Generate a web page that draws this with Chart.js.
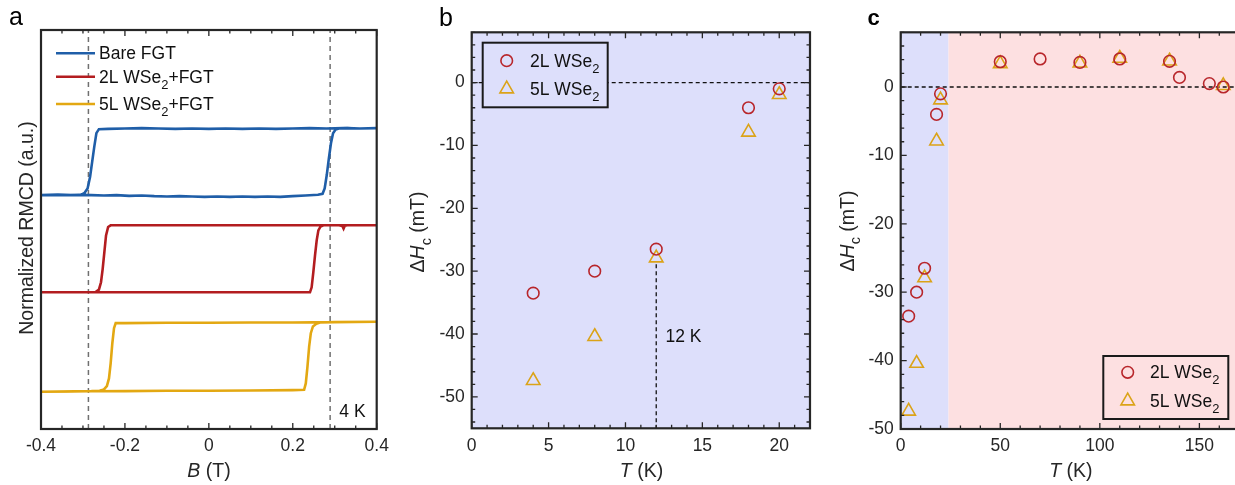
<!DOCTYPE html>
<html><head><meta charset="utf-8">
<script src="https://cdn.jsdelivr.net/npm/chart.js@4.4.1/dist/chart.umd.min.js"></script>
<style>
html,body{margin:0;padding:0;background:#fff;overflow:hidden;width:1235px;height:485px;position:relative;}
canvas.p{position:absolute;top:0;}
</style></head><body>
<canvas id="ca" class="p" style="left:0px" width="400" height="485"></canvas>
<canvas id="cb" class="p" style="left:400px" width="420" height="485"></canvas>
<canvas id="cc" class="p" style="left:820px" width="440" height="485"></canvas>
<script>
// ---------- Panel a : RMCD hysteresis loops at 4 K (normalised, loop order: sweep up then sweep down) ----------
const bareB = [-0.40,-0.36,-0.33,-0.31,-0.28,-0.25,-0.22,-0.19,-0.16,-0.13,-0.10,-0.07,-0.04,-0.01,0.02,0.05,0.08,0.11,0.14,0.17,0.20,0.23,0.26,0.271,0.276,0.281,0.286,0.291,0.296,0.302,0.31,0.33,0.36,0.40,
               0.40,0.36,0.32,0.28,0.24,0.20,0.16,0.12,0.08,0.04,0.00,-0.04,-0.08,-0.12,-0.16,-0.20,-0.24,-0.262,-0.268,-0.273,-0.278,-0.283,-0.289,-0.296,-0.305,-0.32,-0.36,-0.40];
const bareM = [-1.00,-0.99,-1.00,-0.99,-1.00,-1.01,-1.00,-1.02,-1.01,-1.03,-1.04,-1.03,-1.04,-1.05,-1.04,-1.05,-1.04,-1.05,-1.04,-1.05,-1.03,-1.01,-0.99,-0.96,-0.80,-0.40,0.10,0.55,0.85,0.96,0.99,1.00,0.99,1.00,
               1.00,0.99,1.00,0.99,1.00,0.99,0.98,0.99,0.98,0.99,0.98,0.99,0.98,0.99,1.00,0.99,0.98,0.97,0.85,0.45,0.00,-0.45,-0.80,-0.93,-0.99,-1.00,-0.99,-1.00];
const w2LB = [-0.40,-0.30,-0.20,-0.10,0.00,0.10,0.20,0.241,0.245,0.249,0.253,0.257,0.261,0.266,0.273,0.30,0.40,
              0.40,0.33,0.324,0.321,0.318,0.31,0.20,0.10,0.00,-0.10,-0.20,-0.234,-0.240,-0.245,-0.249,-0.253,-0.257,-0.262,-0.270,-0.28,-0.40];
const w2LM = [-1.00,-1.00,-1.00,-1.00,-1.00,-1.00,-1.00,-1.00,-0.85,-0.40,0.10,0.55,0.85,0.96,1.00,1.00,1.00,
              1.00,1.00,0.99,0.90,0.98,1.00,1.00,1.00,1.00,1.00,1.00,1.00,0.95,0.70,0.20,-0.30,-0.70,-0.92,-0.99,-1.00,-1.00];
const w5LB = [-0.40,-0.30,-0.28,-0.20,-0.10,0.00,0.10,0.20,0.227,0.231,0.235,0.239,0.243,0.248,0.256,0.265,0.30,0.40,
              0.40,0.30,0.20,0.10,0.00,-0.10,-0.20,-0.222,-0.226,-0.230,-0.234,-0.238,-0.243,-0.250,-0.260,-0.28,-0.40];
const w5LM = [-1.05,-1.04,-1.035,-1.03,-1.02,-1.02,-1.01,-1.00,-0.99,-0.80,-0.30,0.30,0.70,0.90,0.98,1.02,1.03,1.04,
              1.04,1.03,1.02,1.02,1.01,1.01,1.00,1.00,0.85,0.40,-0.20,-0.65,-0.88,-0.98,-1.02,-1.03,-1.05];
const loopOffsets = [5.82, 2.92, 0];
const coerciveLines = [-0.287, 0.289];
const xTicksA = [-0.4,-0.2,0,0.2,0.4];

// ---------- Panels b, c : Delta Hc vs T ----------
const T_low = [4, 8, 12, 18, 20];
const dH2L_low = [-33.5, -30, -26.5, -4, -1];
const dH5L_low = [-47.4, -40.4, -27.9, -7.9, -1.9];
const T2L_high = [50, 70, 90, 110, 135, 140, 155, 162];
const dH2L_high = [3.7, 4.1, 3.6, 4.1, 3.75, 1.4, 0.5, 0];
const T5L_high = [50, 90, 110, 135, 162];
const dH5L_high = [3.4, 3.5, 4.2, 3.8, 0.2];
const markT = 12;
const xTicksB = [0,5,10,15,20];
const yTicksB = [-50,-40,-30,-20,-10,0];
const xTicksC = [0,50,100,150];
const yTicksC = [-50,-40,-30,-20,-10,0];
const lowRegion = [0, 24];
const highRegion = [24, 172];

// ---------- styles ----------
const FONT = "'Liberation Sans', Arial, Helvetica, sans-serif";
const AX = '#262626';
const TITLE = 19.5;
const C_BLUE = '#1f5ea8', C_RED = '#b31d20', C_YEL = '#e3a812';
const M_RED = '#b8262b', M_YEL = '#dba318';
const BG_BLUE = '#dddffb', BG_PINK = '#fde0e1';

const pts = (xs, ys, off=0) => xs.map((x,i)=>({x, y: ys[i]+off}));

function rich(ctx, parts, x, y, size, align) {
  const seg = []; let w = 0;
  for (const p of parts) {
    const fs = p.sub ? size*0.74 : size;
    const f = (p.b?'bold ':'') + (p.it?'italic ':'') + fs + 'px ' + FONT;
    ctx.font = f;
    const mw = ctx.measureText(p.t).width;
    seg.push({p, f, mw}); w += mw;
  }
  let cx = align === 'center' ? x - w/2 : x;
  ctx.textAlign = 'left'; ctx.textBaseline = 'alphabetic';
  for (const s of seg) {
    ctx.font = s.f;
    ctx.fillText(s.p.t, cx, y + (s.p.sub ? size*0.34 : 0));
    cx += s.mw;
  }
}

function drawMarker(ctx, type, x, y, color) {
  ctx.save(); ctx.strokeStyle = color; ctx.lineWidth = 1.6;
  ctx.beginPath();
  if (type === 'circle') { ctx.arc(x, y, 5.8, 0, Math.PI*2); }
  else { const r = 7.8; ctx.moveTo(x, y - r); ctx.lineTo(x + r*Math.sin(Math.PI*2/3), y - r*Math.cos(Math.PI*2/3)); ctx.lineTo(x - r*Math.sin(Math.PI*2/3), y - r*Math.cos(Math.PI*2/3)); ctx.closePath(); }
  ctx.stroke(); ctx.restore();
}

const deco = {
  id: 'deco',
  beforeDatasetsDraw(chart, args, o) {
    const ctx = chart.ctx, ca = chart.chartArea, xs = chart.scales.x;
    if (o.bg) for (const r of o.bg) {
      const x0 = Math.max(ca.left, xs.getPixelForValue(r.from));
      const x1 = Math.min(ca.right, xs.getPixelForValue(r.to));
      ctx.fillStyle = r.color; ctx.fillRect(x0, ca.top, x1 - x0, ca.bottom - ca.top);
    }
  },
  afterDraw(chart, args, o) {
    const ctx = chart.ctx, ca = chart.chartArea, xs = chart.scales.x, ys = chart.scales.y;
    ctx.save();
    if (o.legend) {
      const L = o.legend;
      if (L.box) {
        ctx.fillStyle = L.fill; ctx.fillRect(L.box[0], L.box[1], L.box[2], L.box[3]);
        ctx.strokeStyle = '#1a1a1a'; ctx.lineWidth = 2; ctx.strokeRect(L.box[0], L.box[1], L.box[2], L.box[3]);
      }
      for (const e of L.items) {
        if (e.line) { ctx.strokeStyle = e.color; ctx.lineWidth = 2.6; ctx.beginPath(); ctx.moveTo(e.lx0, e.y); ctx.lineTo(e.lx1, e.y); ctx.stroke(); }
        else drawMarker(ctx, e.marker, e.mx, e.y, e.color);
        ctx.fillStyle = '#111';
        rich(ctx, e.parts, e.tx, e.y + 6, 17.5, 'left');
      }
    }
    if (o.notes) for (const n of o.notes) {
      ctx.fillStyle = '#111';
      rich(ctx, n.parts, xs.getPixelForValue(n.x), ys.getPixelForValue(n.y), 17.5, 'left');
    }
    ctx.strokeStyle = AX; ctx.lineWidth = 1.3;
    const tick = (scale, major, minor, horiz) => {
      if (!minor) return;
      const n0 = Math.ceil(scale.min/minor - 1e-9), n1 = Math.floor(scale.max/minor + 1e-9);
      for (let k = n0; k <= n1; k++) {
        const v = k*minor;
        const isMaj = Math.abs(v/major - Math.round(v/major)) < 1e-6;
        const len = isMaj ? 6 : 3.5;
        const p = scale.getPixelForValue(v);
        ctx.beginPath();
        if (horiz) { ctx.moveTo(p, ca.bottom); ctx.lineTo(p, ca.bottom - len); ctx.moveTo(p, ca.top); ctx.lineTo(p, ca.top + len); }
        else { ctx.moveTo(ca.left, p); ctx.lineTo(ca.left + len, p); ctx.moveTo(ca.right, p); ctx.lineTo(ca.right - len, p); }
        ctx.stroke();
      }
    };
    tick(xs, o.xMajor, o.xMinor, true);
    tick(ys, o.yMajor, o.yMinor, false);
    ctx.lineWidth = 2.2; ctx.strokeStyle = AX;
    ctx.strokeRect(ca.left, ca.top, ca.right - ca.left, ca.bottom - ca.top);
    ctx.fillStyle = AX;
    rich(ctx, o.xTitle.parts, o.xTitle.x, o.xTitle.y, TITLE, 'center');
    ctx.save(); ctx.translate(o.yTitle.x, o.yTitle.y); ctx.rotate(-Math.PI/2);
    rich(ctx, o.yTitle.parts, 0, 0, TITLE, 'center'); ctx.restore();
    ctx.fillStyle = '#000';
    rich(ctx, [{t:o.letter.t, b:o.letter.b}], o.letter.x, o.letter.y, o.letter.size, 'left');
    ctx.restore();
  }
};

function axes(cfg) {
  const tickFont = {family: FONT, size: 17.5};
  const setTicks = arr => (s => { s.ticks = arr.map(v => ({value: v})); });
  return {
    x: { type:'linear', min: cfg.xmin, max: cfg.xmax,
         grid:{display:false, drawTicks:false}, border:{display:false},
         afterBuildTicks: setTicks(cfg.xt),
         ticks:{ font: tickFont, color: AX, padding: 7, maxRotation:0, autoSkip:false,
                 callback: v => String(Math.round(v*100)/100) },
         afterFit: s => { s.height = cfg.xh; } },
    y: { type:'linear', min: cfg.ymin, max: cfg.ymax,
         grid:{display:false, drawTicks:false}, border:{display:false},
         afterBuildTicks: setTicks(cfg.yt),
         ticks:{ display: cfg.yt.length > 0, font: tickFont, color: AX, padding: 7, autoSkip:false,
                 callback: v => String(Math.round(v*100)/100) },
         afterFit: s => { s.width = cfg.yw; } }
  };
}

const base = { responsive:false, animation:false, events:[], plugins:{ legend:{display:false}, tooltip:{enabled:false} } };

// ---------- Chart a ----------
const loopSets = [[bareB, bareM, C_BLUE], [w2LB, w2LM, C_RED], [w5LB, w5LM, C_YEL]];
const dsA = loopSets.map((s, i) => ({ data: pts(s[0], s[1], loopOffsets[i]), showLine: true, borderColor: s[2], borderWidth: 2.6, pointRadius: 0, tension: 0, fill: false }));
const yMinA = -2.16, yMaxA = 9.75;
coerciveLines.forEach(b => dsA.push({ data: [{x:b, y:yMinA}, {x:b, y:yMaxA}], showLine:true, borderColor:'#707070', borderWidth:1.5, borderDash:[5,4], pointRadius:0 }));

new Chart(document.getElementById('ca'), {
  type: 'scatter',
  data: { datasets: dsA },
  options: Object.assign({}, base, {
    layout: { padding: { top: 30, right: 23.3, left: 0, bottom: 0 } },
    scales: axes({xmin:-0.4, xmax:0.4, ymin:yMinA, ymax:yMaxA, xt:xTicksA, yt:[], xh:56, yw:41}),
    plugins: Object.assign({}, base.plugins, { deco: {
      xMajor: 0.2, xMinor: 0.05,
      xTitle: { parts:[{t:'B', it:true},{t:' (T)'}], x: 209, y: 477 },
      yTitle: { parts:[{t:'Normalized RMCD (a.u.)'}], x: 32.5, y: 228 },
      letter: { t:'a', x: 9, y: 25, size: 25 },
      notes: [{ parts:[{t:'4 K'}], x: 0.311, y: -1.8 }],
      legend: { items: [
        { line:true, color:C_BLUE, lx0:56, lx1:95, y:53.3, tx:99, parts:[{t:'Bare FGT'}] },
        { line:true, color:C_RED,  lx0:56, lx1:95, y:76.7, tx:99, parts:[{t:'2L WSe'},{t:'2', sub:true},{t:'+FGT'}] },
        { line:true, color:C_YEL,  lx0:56, lx1:95, y:104,  tx:99, parts:[{t:'5L WSe'},{t:'2', sub:true},{t:'+FGT'}] } ] }
    } })
  }),
  plugins: [deco]
});

// ---------- Chart b ----------
const markerSets = (T2, H2, T5, H5) => [
  { data: pts(T2, H2), pointStyle:'circle', pointRadius:5.8, borderWidth:1.6, borderColor:M_RED, backgroundColor:'rgba(0,0,0,0)', showLine:false },
  { data: pts(T5, H5), pointStyle:'triangle', pointRadius:7.8, borderWidth:1.6, borderColor:M_YEL, backgroundColor:'rgba(0,0,0,0)', showLine:false }
];
const dsB = markerSets(T_low, dH2L_low, T_low, dH5L_low);
dsB.push({ data:[{x:0,y:0},{x:22,y:0}], showLine:true, borderColor:'#111', borderWidth:1.3, borderDash:[4,3], pointRadius:0 });
dsB.push({ data:[{x:markT,y:-28.9},{x:markT,y:-55}], showLine:true, borderColor:'#111', borderWidth:1.3, borderDash:[4,3], pointRadius:0 });

new Chart(document.getElementById('cb'), {
  type: 'scatter',
  data: { datasets: dsB },
  options: Object.assign({}, base, {
    layout: { padding: { top: 32.3, right: 10, left: 0, bottom: 0 } },
    scales: axes({xmin:0, xmax:22, ymin:-55, ymax:8, xt:xTicksB, yt:yTicksB, xh:56.7, yw:71.7}),
    plugins: Object.assign({}, base.plugins, { deco: {
      bg: [{ from: 0, to: 22, color: BG_BLUE }],
      xMajor: 5, xMinor: 1, yMajor: 10, yMinor: 2,
      xTitle: { parts:[{t:'T', it:true},{t:' (K)'}], x: 241.5, y: 477 },
      yTitle: { parts:[{t:'Δ'},{t:'H', it:true},{t:'c', sub:true},{t:' (mT)'}], x: 24, y: 232 },
      letter: { t:'b', x: 39, y: 26, size: 25 },
      notes: [{ parts:[{t:'12 K'}], x: 12.6, y: -41.2 }],
      legend: { box:[82.7, 42.7, 125, 64.6], fill: BG_BLUE, items: [
        { marker:'circle', color:M_RED, mx:106.7, y:60.7, tx:130, parts:[{t:'2L WSe'},{t:'2', sub:true}] },
        { marker:'triangle', color:M_YEL, mx:106.7, y:89, tx:130, parts:[{t:'5L WSe'},{t:'2', sub:true}] } ] }
    } })
  }),
  plugins: [deco]
});

// ---------- Chart c ----------
const dsC = markerSets(T_low.concat(T2L_high), dH2L_low.concat(dH2L_high), T_low.concat(T5L_high), dH5L_low.concat(dH5L_high));
dsC.push({ data:[{x:0,y:0},{x:172,y:0}], showLine:true, borderColor:'#111', borderWidth:1.3, borderDash:[4,3], pointRadius:0 });

new Chart(document.getElementById('cc'), {
  type: 'scatter',
  data: { datasets: dsC },
  options: Object.assign({}, base, {
    layout: { padding: { top: 32.3, right: 16.8, left: 0, bottom: 0 } },
    scales: axes({xmin:0, xmax:172, ymin:-50, ymax:8, xt:xTicksC, yt:yTicksC, xh:56, yw:80.7}),
    plugins: Object.assign({}, base.plugins, { deco: {
      bg: [{ from: lowRegion[0], to: lowRegion[1], color: BG_BLUE }, { from: highRegion[0], to: highRegion[1], color: BG_PINK }],
      xMajor: 50, xMinor: 10, yMajor: 10, yMinor: 2,
      xTitle: { parts:[{t:'T', it:true},{t:' (K)'}], x: 250.8, y: 477 },
      yTitle: { parts:[{t:'Δ'},{t:'H', it:true},{t:'c', sub:true},{t:' (mT)'}], x: 33.5, y: 231 },
      letter: { t:'c', x: 47.5, y: 25, size: 22, b: true },
      legend: { box:[283.3, 356, 125, 63], fill: BG_PINK, items: [
        { marker:'circle', color:M_RED, mx:307.7, y:372.3, tx:330, parts:[{t:'2L WSe'},{t:'2', sub:true}] },
        { marker:'triangle', color:M_YEL, mx:307.7, y:401, tx:330, parts:[{t:'5L WSe'},{t:'2', sub:true}] } ] }
    } })
  }),
  plugins: [deco]
});
</script>
</body></html>
